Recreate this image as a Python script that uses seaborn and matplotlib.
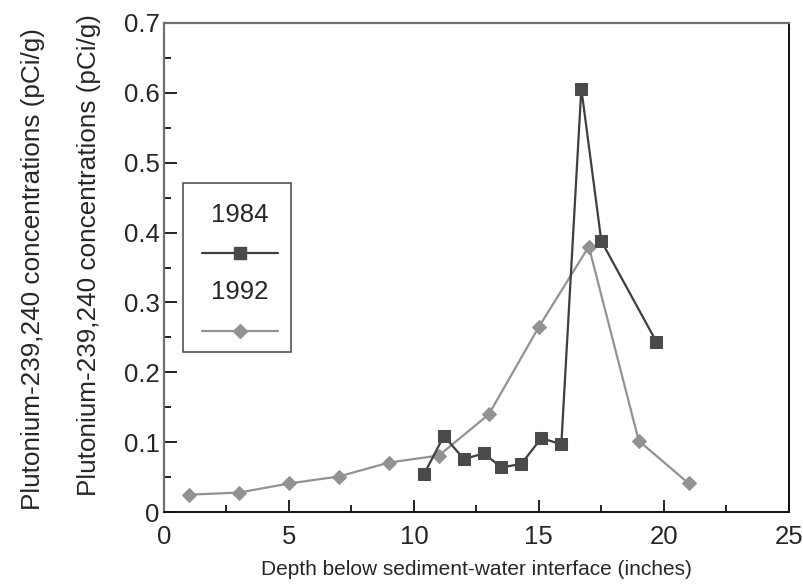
import matplotlib
matplotlib.use("Agg")
import matplotlib.pyplot as plt
from matplotlib.lines import Line2D
from matplotlib.patches import Rectangle
from matplotlib.ticker import MultipleLocator
import seaborn as sns
import pandas as pd

# Core samples, 1984
depth_1984 = [10.4, 11.2, 12.0, 12.8, 13.5, 14.3, 15.1, 15.9, 16.7, 17.5, 19.7]
pu_1984 = [0.054, 0.109, 0.076, 0.084, 0.064, 0.069, 0.106, 0.097, 0.606, 0.388, 0.244]

# Core samples, 1992
depth_1992 = [1, 3, 5, 7, 9, 11, 13, 15, 17, 19, 21]
pu_1992 = [0.025, 0.028, 0.041, 0.051, 0.071, 0.081, 0.140, 0.265, 0.380, 0.102, 0.041]

series_labels = ["1984", "1992"]
x_ticks = [0, 5, 10, 15, 20, 25]
x_tick_labels = ["0", "5", "10", "15", "20", "25"]
y_ticks = [0, 0.1, 0.2, 0.3, 0.4, 0.5, 0.6, 0.7]
y_tick_labels = ["0", "0.1", "0.2", "0.3", "0.4", "0.5", "0.6", "0.7"]
x_label = "Depth below sediment-water interface (inches)"
y_label = "Plutonium-239,240 concentrations (pCi/g)"

dark = "#4a4a4a"
light = "#929292"
diamond_size = 7.5
square_size = 9

sns.set_style("ticks")
plt.rcParams["font.family"] = ["Liberation Sans", "DejaVu Sans"]

fig = plt.figure(figsize=(8.04, 5.88), dpi=100)
ax = fig.add_axes([0.204, 0.129, 0.777, 0.832])

df84 = pd.DataFrame({"depth": depth_1984, "pu": pu_1984})
df92 = pd.DataFrame({"depth": depth_1992, "pu": pu_1992})

sns.lineplot(data=df92, x="depth", y="pu", ax=ax, color=light, lw=1.6,
             marker="D", markersize=diamond_size, markeredgecolor=light, sort=False,
             estimator=None, zorder=2)
sns.lineplot(data=df84, x="depth", y="pu", ax=ax, color="#3f3f3f", lw=1.6,
             marker="s", markersize=square_size, markerfacecolor=dark,
             markeredgecolor=dark, sort=False, estimator=None, zorder=3)

ax.set_xlim(0, 25)
ax.set_ylim(0, 0.7)
ax.set_xticks(x_ticks, x_tick_labels)
ax.set_yticks(y_ticks, y_tick_labels)
ax.xaxis.set_minor_locator(MultipleLocator(2.5))
ax.yaxis.set_minor_locator(MultipleLocator(0.05))

ax.tick_params(axis="both", which="both", direction="in", width=1.4, color="#222222")
ax.tick_params(axis="both", which="major", length=9, labelsize=18.5)
ax.tick_params(axis="both", which="minor", length=5)
ax.tick_params(axis="x", which="major", pad=9.5)
ax.tick_params(axis="y", which="major", pad=3)

for side in ["left", "top"]:
    ax.spines[side].set_color("#707070")
    ax.spines[side].set_linewidth(1.6)
for side in ["right", "bottom"]:
    ax.spines[side].set_color("#111111")
    ax.spines[side].set_linewidth(1.4)
    ax.spines[side].set_visible(True)

ax.set_xlabel(x_label, fontsize=15, labelpad=8)
ax.set_ylabel("")

# Doubled vertical axis caption
fig.text(0.041, 0.543, y_label, rotation=90, fontsize=18.8, ha="center", va="center")
fig.text(0.111, 0.566, y_label, rotation=90, fontsize=18.8, ha="center", va="center")

# Legend box with year captions above each sample line
ax.add_patch(Rectangle((0.030, 0.327), 0.173, 0.346, transform=ax.transAxes,
                       fill=False, edgecolor="#444444", lw=1.1, zorder=5))
ax.text(0.1215, 0.607, series_labels[0], transform=ax.transAxes, fontsize=18.5,
        ha="center", va="center", zorder=6)
ax.text(0.1215, 0.450, series_labels[1], transform=ax.transAxes, fontsize=18.5,
        ha="center", va="center", zorder=6)
ax.add_line(Line2D([0.061, 0.182], [0.530, 0.530], transform=ax.transAxes,
                   color="#3f3f3f", lw=1.6, zorder=6))
ax.add_line(Line2D([0.1215], [0.530], transform=ax.transAxes, marker="s",
                   markersize=square_size, color=dark, lw=0, zorder=7))
ax.add_line(Line2D([0.061, 0.182], [0.370, 0.370], transform=ax.transAxes,
                   color=light, lw=1.6, zorder=6))
ax.add_line(Line2D([0.1215], [0.370], transform=ax.transAxes, marker="D",
                   markersize=diamond_size, color=light, lw=0, zorder=7))

fig.savefig("out.png", dpi=100)
